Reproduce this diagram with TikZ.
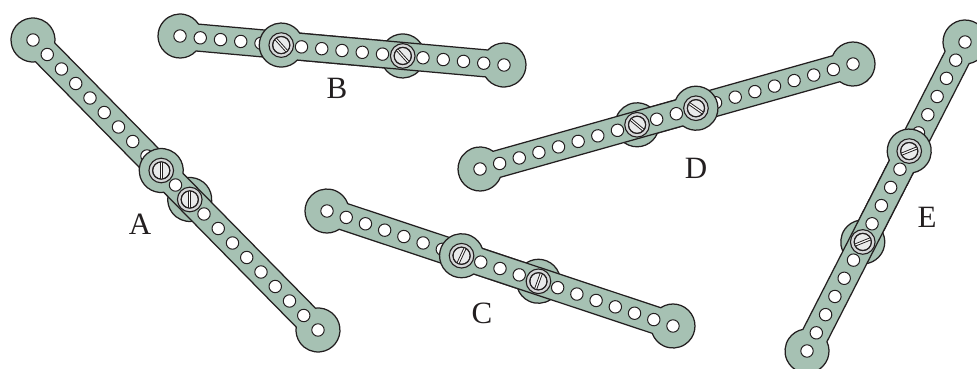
\documentclass[tikz,border=0pt]{standalone}
\usepackage{fontspec}
\setmainfont{Liberation Serif}
\usetikzlibrary{calc}
\definecolor{stripfill}{HTML}{A6C1B3}
\definecolor{inkline}{HTML}{231F20}
\definecolor{boltout}{HTML}{D5D7D8}
\definecolor{boltin}{HTML}{E9EAEB}
\tikzset{
 stripbody/.style={fill=stripfill, draw=inkline, line width=1.25pt, line join=round},
 striphole/.style={fill=white, draw=inkline, line width=1pt},
 boltrim/.style={fill=boltout, draw=inkline, line width=1.1pt},
 bolthead/.style={fill=boltin, draw=inkline, line width=1pt},
 boltslot/.style={fill=white, draw=inkline, line width=0.8pt},
 letter/.style={inner sep=0pt, font=\fontsize{31}{31}\selectfont, text=inkline}
}
\newcommand\mystrip[2]{%
 \pgfpointdiff{\pgfpointanchor{#1}{center}}{\pgfpointanchor{#2}{center}}%
 \pgfgetlastxy{\mydx}{\mydy}%
 \pgfmathsetmacro\sang{atan2(\mydy,\mydx)}%
 \pgfmathsetmacro\slen{veclen(\mydx,\mydy)}%
 \pgfmathsetmacro\sendx{\slen-17.37}%
 \begin{scope}[shift={(#1)},rotate=\sang]
  \draw[stripbody] (17.37pt,13.5pt) -- (\sendx pt,13.5pt)
    arc[start angle=142.15, end angle=-142.15, radius=22pt]
    -- (17.37pt,-13.5pt)
    arc[start angle=-37.85, end angle=-322.15, radius=22pt] -- cycle;
  \foreach \i in {0,...,11}{%
   \pgfmathsetmacro\hx{\i*\slen/11}%
   \draw[striphole] (\hx pt,0pt) circle[radius=6.2pt];}
 \end{scope}}
\newcommand\mybolt[2]{%
 \begin{scope}[shift={(#1)}]
  \draw[boltrim] (0pt,0pt) circle[radius=12.3pt];
  \draw[bolthead] (0pt,0pt) circle[radius=8.6pt];
  \begin{scope}
   \clip (0pt,0pt) circle[radius=8.6pt];
   \draw[boltslot, rotate=#2] (-10pt,-1.1pt) rectangle (10pt,1.1pt);
  \end{scope}
  \draw[inkline, line width=1pt] (0pt,0pt) circle[radius=8.6pt];
 \end{scope}}
\begin{document}
\begin{tikzpicture}[x=1pt,y=-1pt]
\useasboundingbox (0,0) rectangle (977,368);
% A
\coordinate (a0) at (33,40); \coordinate (a1) at (318,330);
\coordinate (ak) at ($(a0)!9/20!(a1)$);
\coordinate (am) at ($(a0)!11/20!(a1)$);
\mystrip{a0}{am}
\mystrip{ak}{a1}
\mybolt{ak}{90}
\mybolt{am}{90}
% B
\coordinate (b0) at (180,36); \coordinate (b1) at (504,65);
\coordinate (bk) at ($(b0)!5/16!(b1)$);
\coordinate (bm) at ($(b0)!11/16!(b1)$);
\mystrip{b0}{bm}
\mystrip{bk}{b1}
\mybolt{bk}{-48}
\mybolt{bm}{-48}
% C
\coordinate (c0) at (327,211); \coordinate (c1) at (673,326);
\coordinate (ck) at ($(c0)!7/18!(c1)$);
\coordinate (cm) at ($(c0)!11/18!(c1)$);
\mystrip{c0}{cm}
\mystrip{ck}{c1}
\mybolt{ck}{65}
\mybolt{cm}{70}
% D
\coordinate (d0) at (853,64); \coordinate (d1) at (480,169);
\coordinate (dk) at ($(d0)!8/19!(d1)$);
\coordinate (dm) at ($(d0)!11/19!(d1)$);
\mystrip{d0}{dm}
\mystrip{dk}{d1}
\mybolt{dk}{-35}
\mybolt{dm}{-40}
% E
\coordinate (e0) at (965,42); \coordinate (e1) at (807,351);
\coordinate (ek) at ($(e0)!6/17!(e1)$);
\coordinate (em) at ($(e0)!11/17!(e1)$);
\mystrip{e0}{em}
\mystrip{ek}{e1}
\mybolt{ek}{22}
\mybolt{em}{22}
% labels
\node[letter] (labA) at (140,224) {A};
\node[letter] (labB) at (337,88) {B};
\node[letter] (labC) at (482,313) {C};
\node[letter] (labD) at (696,168) {D};
\node[letter] (labE) at (927,217) {E};
\end{tikzpicture}
\end{document}
